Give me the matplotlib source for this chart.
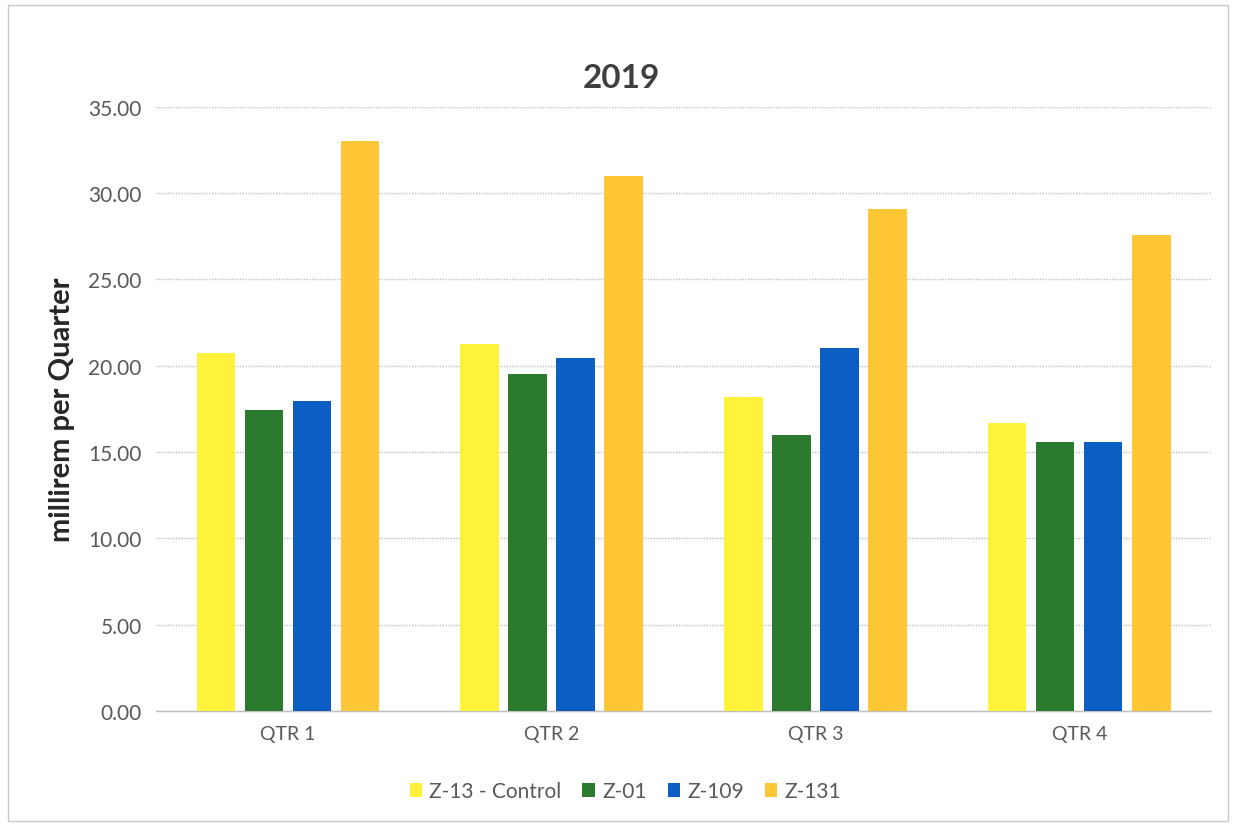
import matplotlib
matplotlib.use("Agg")
import matplotlib.pyplot as plt
import numpy as np
from matplotlib.patches import Rectangle

quarters = ["QTR 1", "QTR 2", "QTR 3", "QTR 4"]
series_names = ["Z-13 - Control", "Z-01", "Z-109", "Z-131"]
z13 = [20.75, 21.27, 18.20, 16.71]
z01 = [17.44, 19.49, 16.01, 15.57]
z109 = [17.95, 20.47, 21.02, 15.57]
z131 = [33.01, 31.00, 29.05, 27.54]
colors = ["#FFF23A", "#2B7A2E", "#0D5EC2", "#FFC735"]
yticks = [0, 5, 10, 15, 20, 25, 30, 35]

plt.rcParams['font.family'] = ['Lato', 'DejaVu Sans']

fig = plt.figure(figsize=(12.36, 8.28), dpi=100)
fig.patch.set_facecolor("white")
fig.patches.append(Rectangle((8/1236, 6/828), 1220/1236, 816/828, transform=fig.transFigure,
                             fill=False, edgecolor="#C8C8C8", linewidth=1.0))
ax = fig.add_axes([0.126, 0.14, 0.854, 0.73])

x = np.arange(len(quarters))
step = 0.182
width = 0.145
all_series = [z13, z01, z109, z131]
for i, (vals, name, c) in enumerate(zip(all_series, series_names, colors)):
    ax.bar(x + (i - 1.5) * step, vals, width=width, color=c, label=name, zorder=3)

ax.set_xlim(-0.5, 3.5)
ax.set_ylim(0, 35)
ax.set_yticks(yticks)
ax.set_yticklabels([f"{v:.2f}" for v in yticks], fontsize=15, color="#595959")
ax.set_xticks(x)
ax.set_xticklabels(quarters, fontsize=14, color="#595959")
ax.tick_params(axis='both', length=0, pad=10)
ax.grid(axis='y', color="#BFBFBF", linestyle=(0, (1, 1)), linewidth=1.0, zorder=0)
for s in ["top", "right", "left"]:
    ax.spines[s].set_visible(False)
ax.spines["bottom"].set_color("#BFBFBF")
ax.spines["bottom"].set_linewidth(1.0)

ax.set_ylabel("millirem per Quarter", fontsize=21, fontweight='bold', color="#262626", labelpad=10)
fig.text(0.5025, 0.905, "2019", fontsize=24, fontweight='bold', color="#3F3F3F",
         ha="center", va="center")

leg = fig.legend(loc="center", bbox_to_anchor=(0.506, 0.043), ncol=4, frameon=False,
                 fontsize=15, handlelength=0.6, handleheight=0.6, handletextpad=0.35,
                 columnspacing=1.0, labelcolor="#595959")

fig.savefig("out.png", dpi=100)
